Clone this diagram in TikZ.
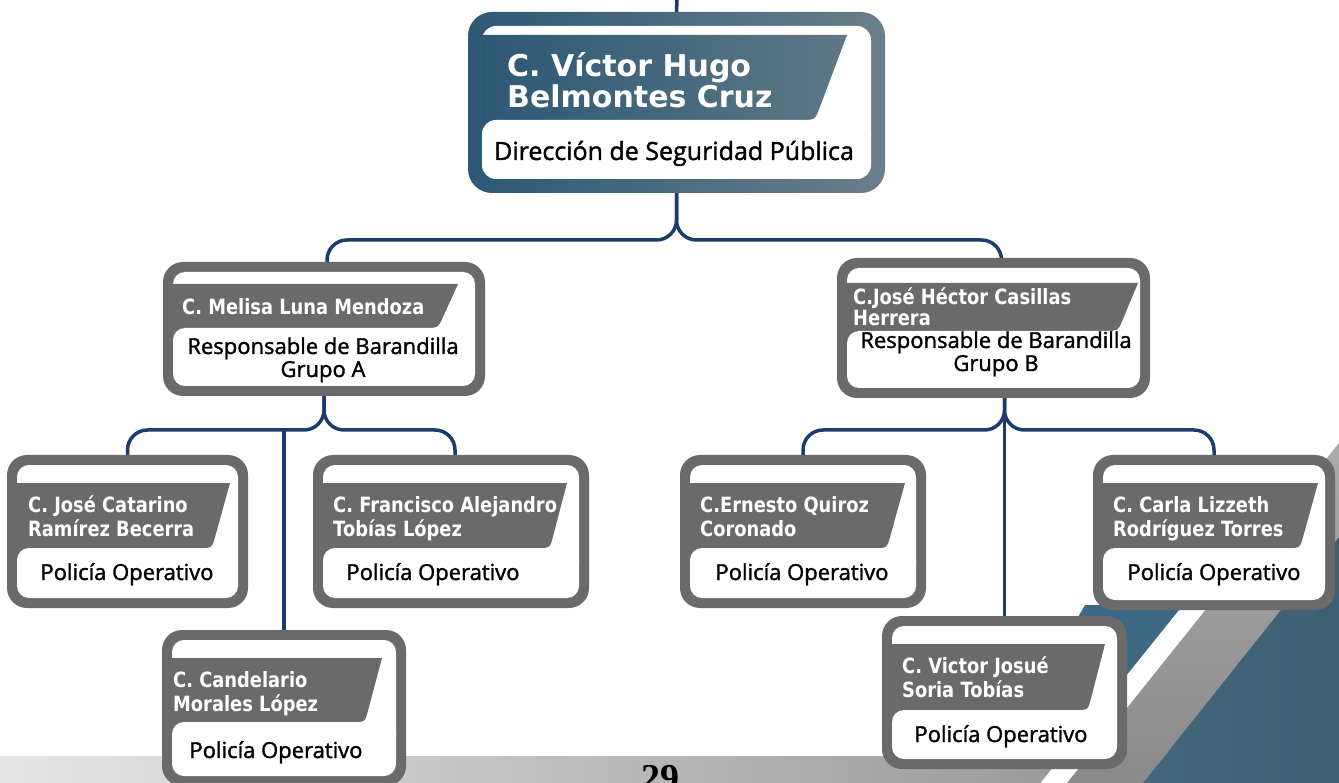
\documentclass[tikz,border=0pt]{standalone}
\usepackage{fontspec}
\usetikzlibrary{calc}
\newfontfamily\namefont{DejaVu Sans Bold}[FakeStretch=0.85]
\newfontfamily\topnamefont{DejaVu Sans Bold}
\newfontfamily\rolefont{Open Sans}[FakeBold=1.5]
\newfontfamily\pagefont{Liberation Serif}
\definecolor{boxgray}{HTML}{6A6A6A}
\definecolor{conncol}{HTML}{1C3D6C}
\definecolor{blueA}{HTML}{2D5874}
\definecolor{blueB}{HTML}{6A7F8A}
\definecolor{blueC}{HTML}{5E7886}
\definecolor{decoblue}{HTML}{42667C}
\definecolor{decoblueL}{HTML}{3C6A86}
\definecolor{decoblueD}{HTML}{3E5E71}
\definecolor{stripegray}{HTML}{8A8A8A}
\definecolor{stripegrayL}{HTML}{ABABAB}
\definecolor{stripL}{HTML}{E6E6E6}
\definecolor{stripR}{HTML}{9A9A9A}
\pgfdeclarelayer{deco}
\pgfdeclarelayer{links}
\pgfsetlayers{deco,links,main}
\newcommand\twoline[3][24pt]{\vtop{\baselineskip=#1\hbox{#2}\hbox{#3}}}
\newcommand\ctwoline[3][23pt]{\vtop{\baselineskip=#1\hbox to 0pt{\hss#2\hss}\hbox to 0pt{\hss#3\hss}}}
\tikzset{
  boxnode/.style={rectangle, inner sep=0pt, outer sep=0pt, draw=none},
  conn/.style={draw=conncol, line width=3.5pt, rounded corners=20pt},
  nametext/.style={inner sep=0pt, text=white, font=\namefont\fontsize{21}{24}\selectfont},
  roletext/.style={inner sep=0pt, text=black, font=\rolefont\fontsize{22}{23}\selectfont},
}
% #1 name, #2 x1, #3 y1, #4 x2, #5 y2, #6 banner top, #7 banner bottom, #8 slant top x, #9 slant bottom x
\newcommand\orgbox[9]{%
  \fill[boxgray, rounded corners=20pt] (#2,#3) rectangle (#4,#5);
  \fill[white, rounded corners=12pt] ({#2+10},{#3+10}) rectangle ({#4-10},{#5-10});
  \fill[boxgray] ({#2+10},#6) -- (#8,#6) -- ($(#9,#7)!12pt!(#8,#6)$) .. controls (#9,#7) .. ({#9-12},#7) -- ({#2+30},#7) -- ({#2+30},{#7+12}) -- ({#2+10},{#7+12}) -- cycle;
  \fill[white, rounded corners=12pt] ({#2+10},#7) rectangle ({#4-10},{#7+26});
  \path node[boxnode, minimum width={(#4-#2)*1pt}, minimum height={(#5-#3)*1pt}] (#1) at ({(#2+#4)/2},{(#3+#5)/2}) {};
}
\begin{document}
\begin{tikzpicture}[x=1pt,y=-1pt]
\useasboundingbox (0,0) rectangle (1339,783);
\clip (0,0) rectangle (1339,783);
\begin{pgfonlayer}{deco}
\fill[white] (0,0) rectangle (1339,783);
\shade[top color=decoblueL, bottom color=decoblue] (1085,605) -- (1183,605) -- (1040,783) -- (1000,783) -- (1065,640) -- cycle;
\shade[left color=stripL, right color=stripR] (0,756) -- (1062,756) -- (1040,783) -- (0,783) -- cycle;
\shade[top color=stripegrayL, bottom color=stripegray] (1067,783) -- (1339,443) -- (1339,537) -- (1143,783) -- cycle;
\shade[left color=decoblue, right color=decoblueD] (1143,783) -- (1339,537) -- (1339,783) -- cycle;
\end{pgfonlayer}
% top box
\shade[left color=blueA, right color=blueB, rounded corners=24pt] (468,12) rectangle (885,193);
\fill[white, rounded corners=14pt] (482,26) rectangle (871,179);
\shade[left color=blueA, right color=blueC] (482,35) -- (847,35) -- ($(815,120)!14pt!(847,35)$) .. controls (815,120) .. (801,120) -- (505,120) -- (505,134) -- (482,134) -- cycle;
\fill[white, rounded corners=14pt] (482,120) rectangle (871,150);
\path node[boxnode, minimum width=417pt, minimum height=181pt] (dir) at (676.5,102.5) {};
% other boxes
\orgbox{mel}{163}{262}{485}{396}{284}{328}{458}{438}
\orgbox{hec}{837}{258}{1150}{398}{283}{331}{1138}{1118}
\orgbox{jc}{7}{455}{248}{608}{483}{548}{230}{212}
\orgbox{fr}{313}{455}{589}{608}{483}{548}{567}{550}
\orgbox{cd}{162}{630}{406}{786}{658}{722}{382}{365}
\orgbox{er}{680}{455}{926}{608}{483}{548}{905}{887}
\orgbox{ca}{1093}{455}{1335}{610}{483}{548}{1318}{1300}
\orgbox{vj}{882}{616}{1127}{769}{644}{710}{1105}{1088}
% connectors
\coordinate (topin) at (677,0);
\coordinate (jtop) at (0,240);
\coordinate (jl) at (0,430);
\coordinate (jr) at (0,430);
\coordinate (melin) at ([xshift=3pt]mel.north);
\coordinate (hecin) at ([xshift=8pt]hec.north);
\coordinate (hecout) at ([xshift=11pt]hec.south);
\coordinate (frin) at ([xshift=4pt]fr.north);
\begin{pgfonlayer}{links}
\draw[conn] (topin) -- (dir.north);
\draw[conn] (dir.south) -- (dir.south |- jtop) -| (melin);
\draw[conn] (dir.south) -- (dir.south |- jtop) -| (hecin);
\draw[conn] (mel.south) -- (mel.south |- jl) -| (jc.north);
\draw[conn] (mel.south) -- (mel.south |- jl) -| (frin);
\draw[conn] (cd.north |- jl) -- (cd.north);
\draw[conn] (hecout) -- (hecout |- jr) -| (er.north);
\draw[conn] (hecout) -- (hecout |- jr) -| (ca.north);
\draw[conn] (hecout) -- (vj.north);
\end{pgfonlayer}
% texts
\node[nametext, font=\topnamefont\fontsize{30}{30}\selectfont, anchor=base west] (n0) at (507,77) {\twoline[27pt]{C. Víctor Hugo}{Belmontes Cruz}};
\node[roletext, font=\rolefont\fontsize{25}{25}\selectfont, anchor=base] (r0) at (674,160) {Dirección de Seguridad Pública};
\node[nametext, anchor=base west] (n1) at (182,315) {C. Melisa Luna Mendoza};
\node[roletext, anchor=base] (r1) at (323,354) {\ctwoline{Responsable de Barandilla}{Grupo A}};
\node[nametext, anchor=base west] (n2) at (853,305) {\twoline[19pt]{C.José Héctor Casillas}{Herrera}};
\node[roletext, anchor=base] (r2) at (996,348) {\ctwoline{Responsable de Barandilla}{Grupo B}};
\node[nametext, anchor=base west] (n3) at (28,512) {\twoline{C. José Catarino}{Ramírez Becerra}};
\node[roletext, anchor=base] (r3) at (127,580) {Policía Operativo};
\node[nametext, anchor=base west] (n4) at (333,512) {\twoline{C. Francisco Alejandro}{Tobías López}};
\node[roletext, anchor=base] (r4) at (433,580) {Policía Operativo};
\node[nametext, anchor=base west] (n5) at (173,687) {\twoline{C. Candelario}{Morales López}};
\node[roletext, anchor=base] (r5) at (276,758) {Policía Operativo};
\node[nametext, anchor=base west] (n6) at (700,512) {\twoline{C.Ernesto Quiroz}{Coronado}};
\node[roletext, anchor=base] (r6) at (802,580) {Policía Operativo};
\node[nametext, anchor=base west] (n7) at (1113,512) {\twoline{C. Carla Lizzeth}{Rodríguez Torres}};
\node[roletext, anchor=base] (r7) at (1214,580) {Policía Operativo};
\node[nametext, anchor=base west] (n8) at (902,673) {\twoline{C. Victor Josué}{Soria Tobías}};
\node[roletext, anchor=base] (r8) at (1001,742) {Policía Operativo};
\node[inner sep=0pt, font=\pagefont\bfseries\fontsize{38}{38}\selectfont, anchor=base] (pg) at (660,790) {29};
\end{tikzpicture}
\end{document}
